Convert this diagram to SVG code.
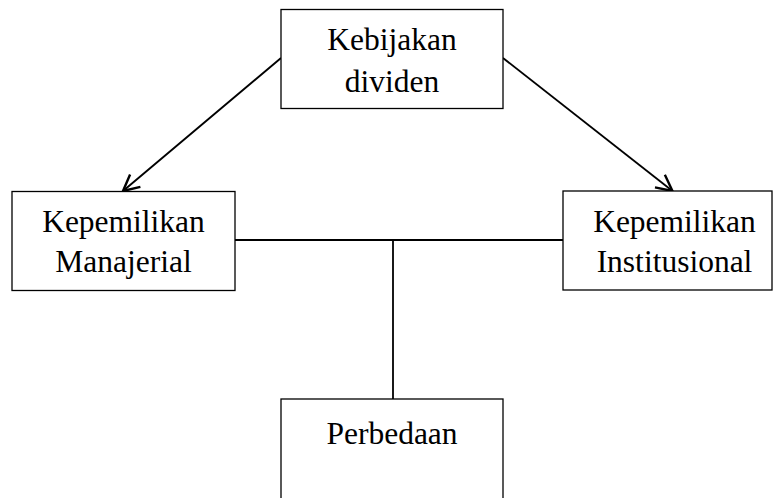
<svg xmlns="http://www.w3.org/2000/svg" width="773" height="498" viewBox="0 0 773 498">
<style>
.box{fill:#fff;stroke:#000;stroke-width:1.3}
.t{font-family:"Liberation Serif","Times New Roman",serif;font-size:31.5px;text-anchor:middle;fill:#000}
.c{fill:none;stroke:#000;stroke-width:1.8}
</style>
<defs>
<marker id="ah" markerUnits="userSpaceOnUse" markerWidth="24" markerHeight="24" refX="18" refY="10" orient="auto" viewBox="0 0 24 20">
<path d="M2,2 L18,10 L2,18" fill="none" stroke="#000" stroke-width="2.4"/>
</marker>
</defs>
<g id="connectors">
<line class="c" x1="281" y1="58" x2="123" y2="191" marker-end="url(#ah)"/>
<line class="c" x1="503" y1="58" x2="672.5" y2="191" marker-end="url(#ah)"/>
<line class="c" x1="235" y1="240" x2="563" y2="240"/>
<line class="c" x1="393" y1="240" x2="393" y2="399"/>
</g>
<g id="kebijakan">
<rect class="box" x="281" y="9.5" width="222" height="99"/>
<text class="t" x="392" y="50">Kebijakan</text>
<text class="t" x="392" y="92">dividen</text>
</g>
<g id="manajerial">
<rect class="box" x="12" y="191.5" width="223" height="99"/>
<text class="t" x="123.5" y="231.7">Kepemilikan</text>
<text class="t" x="123.5" y="271.7">Manajerial</text>
</g>
<g id="institusional">
<rect class="box" x="563" y="191" width="209" height="99"/>
<text class="t" x="674.5" y="231.7">Kepemilikan</text>
<text class="t" x="674.5" y="271.7">Institusional</text>
</g>
<g id="perbedaan">
<rect class="box" x="281" y="399" width="222" height="110"/>
<text class="t" x="392" y="444">Perbedaan</text>
</g>
</svg>
